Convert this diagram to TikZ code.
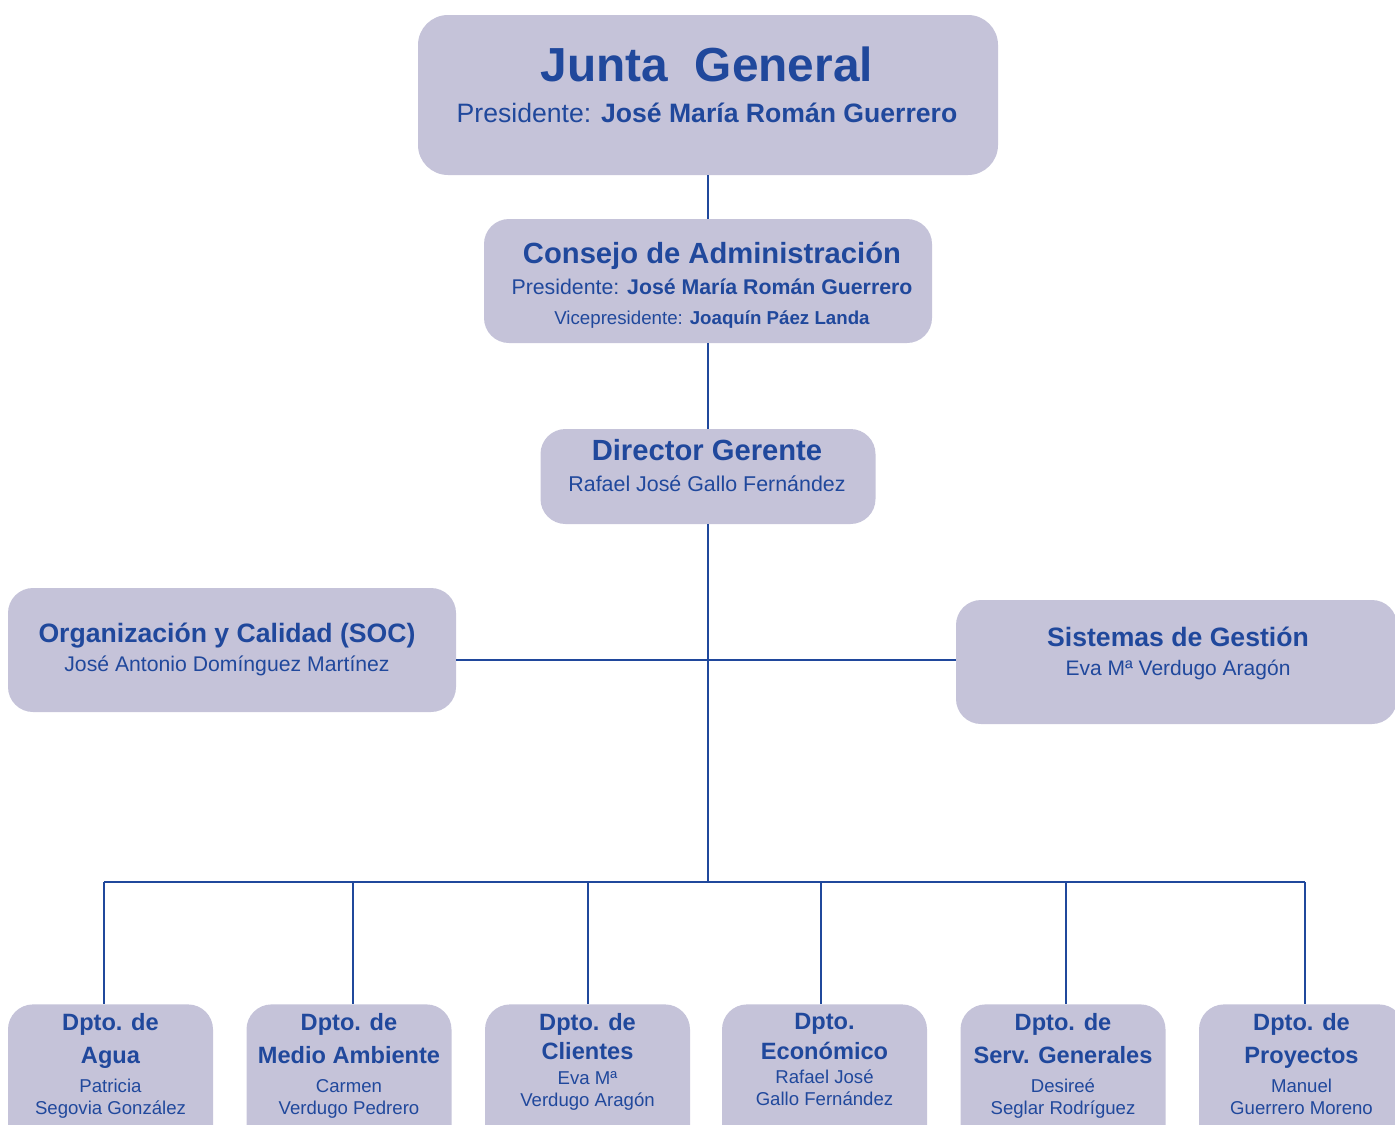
\documentclass[tikz,border=0pt]{standalone}
\usepackage{fontspec}
\setmainfont{Liberation Sans}
\definecolor{orgBlue}{RGB}{32,72,156}
\definecolor{orgFill}{RGB}{197,195,217}

\tikzset{
orgbox/.style={fill=orgFill, draw=none, rounded corners=12.5pt, inner sep=0pt},
orgtext/.style={text=orgBlue, align=center, inner sep=0pt, anchor=north},
orgline/.style={draw=orgBlue, line width=1.1pt},
}

% department box: name, centre x, drop x, title lines, person, gap
\newcommand{\dptoBox}[7]{
\node [orgbox, minimum width=102.5pt, minimum height=80pt, anchor=north] (#1) at (#2,1004) {};
\node [orgtext, font=\fontsize{9.3}{11}\selectfont] (#1-t) at (#2,1013)
 {{\fontsize{11.8}{11.8}\selectfont\bfseries #4}\\[#7]{\fontsize{11.8}{11.8}\selectfont\bfseries #5}\\[\dimexpr#7-2pt\relax]#6};
\coordinate (#1-in) at (#3,1004);
}

\begin{document}
\begin{tikzpicture}[x=0.5pt,y=-0.5pt]
\useasboundingbox (0,0) rectangle (1395,1124);

\node [orgbox, rounded corners=15pt, minimum width=290pt, minimum height=80pt] (junta) at (708,95) {};
\node [orgtext, font=\fontsize{13.3}{20.5}\selectfont] (junta-t) at (707,46)
 {{\fontsize{23.9}{23.9}\selectfont\bfseries Junta\ \ General}\\ Presidente: \textbf{José María Román Guerrero}};

\node [orgbox, minimum width=224pt, minimum height=62pt] (consejo) at (708,281) {};
\node [orgtext, font=\fontsize{10.65}{15.5}\selectfont] (consejo-t) at (712,242)
 {{\fontsize{14.6}{14.6}\selectfont\bfseries Consejo de Administración}\\ Presidente: \textbf{José María Román Guerrero}\\[-0.5pt]
 {\fontsize{9.35}{9.35}\selectfont Vicepresidente: \textbf{Joaquín Páez Landa}}};

\node [orgbox, minimum width=167.5pt, minimum height=47.5pt] (director) at (708,476.5) {};
\node [orgtext, font=\fontsize{10.7}{15.5}\selectfont] (director-t) at (707,439)
 {{\fontsize{14.6}{14.6}\selectfont\bfseries Director Gerente}\\ Rafael José Gallo Fernández};

\node [orgbox, minimum width=224pt, minimum height=62pt] (org) at (232,650) {};
\node [orgtext, font=\fontsize{10.6}{14.5}\selectfont] (org-t) at (227,623)
 {{\fontsize{13.3}{13.3}\selectfont\bfseries Organización y Calidad (SOC)}\\ José Antonio Domínguez Martínez};

\node [orgbox, minimum width=220.5pt, minimum height=62pt] (sis) at (1176.5,662) {};
\node [orgtext, font=\fontsize{10.5}{14.5}\selectfont] (sis-t) at (1178,627)
 {{\fontsize{13.3}{13.3}\selectfont\bfseries Sistemas de Gestión}\\ Eva Mª Verdugo Aragón};

\dptoBox{agua}{110.5}{104}{Dpto. de}{Agua}{Patricia\\Segovia González}{5.5pt}
\dptoBox{medio}{349}{353}{Dpto. de}{Medio Ambiente}{Carmen\\Verdugo Pedrero}{5.5pt}
\dptoBox{clientes}{587.5}{588}{Dpto. de}{Clientes}{Eva Mª\\Verdugo Aragón}{3.5pt}
\dptoBox{econ}{824.5}{821}{Dpto.}{Económico}{Rafael José\\Gallo Fernández}{3pt}
\dptoBox{serv}{1063}{1066}{Dpto. de}{Serv. Generales}{Desireé\\Seglar Rodríguez}{5.5pt}
\dptoBox{proy}{1301.5}{1305}{Dpto. de}{Proyectos}{Manuel\\Guerrero Moreno}{5.5pt}

\coordinate (hub) at (708,660);
\coordinate (bus) at (708,882);

\draw [orgline] (junta.south) -- (consejo.north);
\draw [orgline] (consejo.south) -- (director.north);
\draw [orgline] (director.south) -- (bus);
\draw [orgline] (hub -| org.east) -- (hub -| sis.west);
\draw [orgline] (bus -| agua-in) -- (bus -| proy-in);
\foreach \d in {agua,medio,clientes,econ,serv,proy}
 \draw [orgline] (bus -| \d-in) -- (\d-in);
\end{tikzpicture}
\end{document}
